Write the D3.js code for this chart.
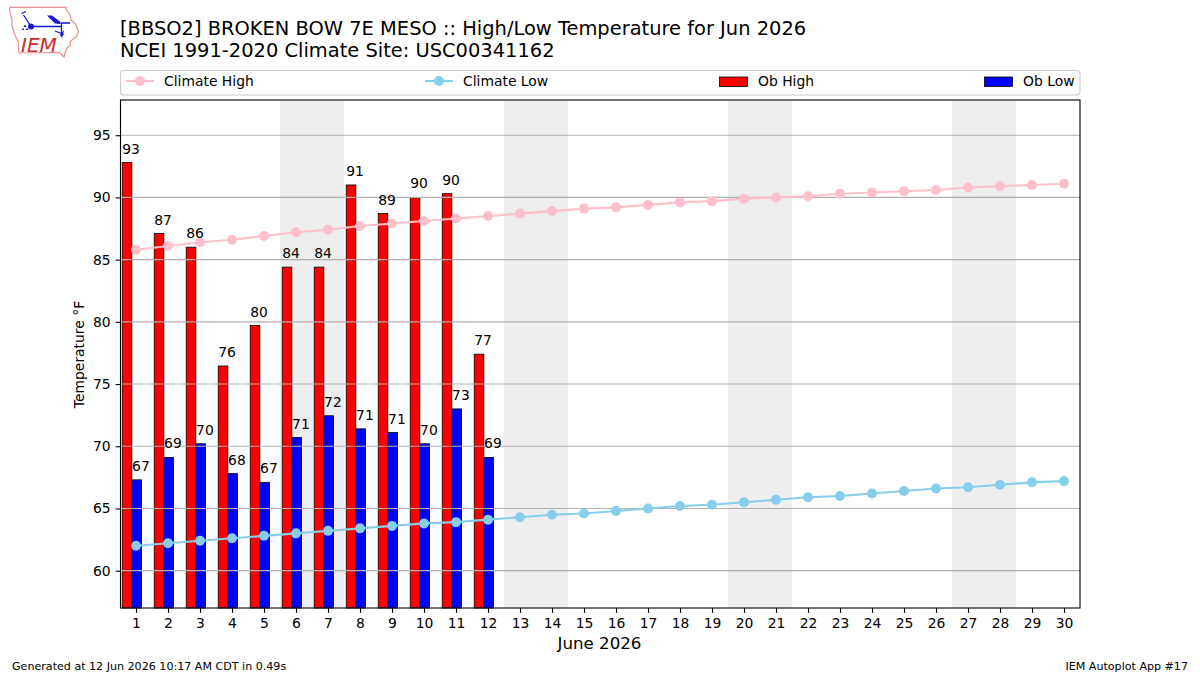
<!DOCTYPE html>
<html>
<head>
<meta charset="utf-8">
<script src="https://cdn.jsdelivr.net/npm/d3@7"></script>
<style>
  html, body { margin: 0; padding: 0; background: #fff; }
  svg { display: block; }
  text { font-family: "DejaVu Sans", sans-serif; fill: #000; }
</style>
</head>
<body>
<svg id="chart" width="1200" height="675"></svg>
<script>
const days = d3.range(1, 31);
const obHigh = [92.8, 87.1, 86.0, 76.45, 79.7, 84.4, 84.4, 91.0, 88.7, 90.0, 90.3, 77.4];
const obLow = [67.3, 69.1, 70.2, 67.8, 67.1, 70.7, 72.45, 71.4, 71.1, 70.2, 73.0, 69.1];
const climateHigh = [85.8, 86.1, 86.4, 86.6, 86.9, 87.2, 87.4, 87.7, 87.9, 88.1, 88.3, 88.5, 88.7, 88.9, 89.1,
                     89.2, 89.4, 89.6, 89.7, 89.9, 90.0, 90.1, 90.3, 90.4, 90.5, 90.6, 90.8, 90.9, 91.0, 91.1];
const climateLow = [62.0, 62.2, 62.4, 62.6, 62.8, 63.0, 63.2, 63.4, 63.6, 63.8, 63.9, 64.1, 64.3, 64.5, 64.6,
                    64.8, 65.0, 65.2, 65.3, 65.5, 65.7, 65.9, 66.0, 66.2, 66.4, 66.6, 66.7, 66.9, 67.1, 67.2];
const weekends = [[5.5, 7.5], [12.5, 14.5], [19.5, 21.5], [26.5, 28.5]];
const yTicks = [60, 65, 70, 75, 80, 85, 90, 95];
const titleLines = ["[BBSO2] BROKEN BOW 7E MESO :: High/Low Temperature for Jun 2026",
                    "NCEI 1991-2020 Climate Site: USC00341162"];
const legendItems = [
  { label: "Climate High", kind: "line", color: "pink", x0: 126, tx: 164 },
  { label: "Climate Low", kind: "line", color: "skyblue", x0: 425, tx: 463 },
  { label: "Ob High", kind: "bar", color: "red", x0: 719, tx: 758 },
  { label: "Ob Low", kind: "bar", color: "blue", x0: 984, tx: 1023 }
];

const plot = { left: 120.5, right: 1080, top: 100, bottom: 608 };
const x = d3.scaleLinear().domain([0.5, 30.5]).range([120, 1080]);
const y = d3.scaleLinear().domain([57, 97.83]).range([plot.bottom, plot.top]);
const barW = x(0.3) - x(0);

const svg = d3.select("#chart");
const g = svg.append("g");

// Weekend shading sits behind everything else
g.selectAll("rect.weekend").data(weekends).join("rect")
  .attr("class", "weekend")
  .attr("x", d => x(d[0])).attr("width", d => x(d[1]) - x(d[0]))
  .attr("y", plot.top).attr("height", plot.bottom - plot.top)
  .attr("fill", "#eeeeee");

// Observed high and low bars, side by side just left of each day
const bars = (values, offset, color) => g.selectAll(null).data(values).join("rect")
  .attr("x", (d, i) => x(days[i] + offset))
  .attr("width", barW)
  .attr("y", d => y(d))
  .attr("height", d => plot.bottom - y(d))
  .attr("fill", color).attr("stroke", "#000").attr("stroke-width", 0.8);
bars(obHigh, -0.43, "red");
bars(obLow, -0.13, "blue");

// Horizontal grid
g.selectAll("line.grid").data(yTicks).join("line")
  .attr("class", "grid")
  .attr("x1", plot.left).attr("x2", plot.right)
  .attr("y1", d => y(d)).attr("y2", d => y(d))
  .attr("stroke", "#b0b0b0").attr("stroke-width", 1.1);

// Climatology lines with round markers
const drawClimate = (values, color) => {
  const line = d3.line().x((d, i) => x(days[i])).y(d => y(d));
  g.append("path").attr("d", line(values)).attr("fill", "none")
    .attr("stroke", color).attr("stroke-width", 2.1);
  g.selectAll(null).data(values).join("circle")
    .attr("cx", (d, i) => x(days[i])).attr("cy", d => y(d)).attr("r", 5)
    .attr("fill", color);
};
drawClimate(climateHigh, "pink");
drawClimate(climateLow, "skyblue");

// Rounded value labels above each bar
const valueLabels = (values, offset) => g.selectAll(null).data(values).join("text")
  .attr("x", (d, i) => x(days[i] + offset))
  .attr("y", d => y(d) - 9)
  .attr("text-anchor", "middle")
  .attr("font-size", 13.9)
  .text(d => d3.format(".0f")(d));
valueLabels(obHigh, -0.155);
valueLabels(obLow, 0.155);

// Axes
const xAxis = d3.axisBottom(x).tickValues(days).tickFormat(d3.format("d")).tickSize(4.9).tickPadding(4.9).tickSizeOuter(0);
const yAxis = d3.axisLeft(y).tickValues(yTicks).tickFormat(d3.format("d")).tickSize(4.9).tickPadding(4.9).tickSizeOuter(0);
const ax = svg.append("g").attr("transform", `translate(0,${plot.bottom})`).call(xAxis);
const ay = svg.append("g").attr("transform", `translate(${plot.left},0)`).call(yAxis);
[ax, ay].forEach(a => {
  a.select(".domain").remove();
  a.selectAll("line").attr("stroke", "#000").attr("stroke-width", 1.1);
  a.selectAll("text").attr("font-size", 13.9).attr("font-family", "DejaVu Sans").attr("fill", "#000");
});

svg.append("rect")
  .attr("x", plot.left).attr("y", plot.top)
  .attr("width", plot.right - plot.left).attr("height", plot.bottom - plot.top)
  .attr("fill", "none").attr("stroke", "#000").attr("stroke-width", 1.1);

// Axis titles
svg.append("text").attr("x", 599.5).attr("y", 649).attr("text-anchor", "middle")
  .attr("font-size", 16.67).text("June 2026");
svg.append("text").attr("transform", "translate(84,354.5) rotate(-90)").attr("text-anchor", "middle")
  .attr("font-size", 13.9).text("Temperature \u00B0F");

// Title block
svg.selectAll("text.title").data(titleLines).join("text")
  .attr("class", "title")
  .attr("x", 120).attr("y", (d, i) => 35 + i * 22)
  .attr("font-size", 19.44).text(d => d);

// Legend strip
const legend = svg.append("g");
legend.append("rect").attr("x", 120.5).attr("y", 70.5).attr("width", 959.5).attr("height", 24.5)
  .attr("rx", 3).attr("fill", "#fff").attr("stroke", "#cccccc").attr("stroke-width", 1.1);
legendItems.forEach(item => {
  if (item.kind === "line") {
    legend.append("line").attr("x1", item.x0).attr("x2", item.x0 + 28).attr("y1", 81).attr("y2", 81)
      .attr("stroke", item.color).attr("stroke-width", 2.1);
    legend.append("circle").attr("cx", item.x0 + 14).attr("cy", 81).attr("r", 5).attr("fill", item.color);
  } else {
    legend.append("rect").attr("x", item.x0 + 0.5).attr("y", 77).attr("width", 28).attr("height", 9.5)
      .attr("fill", item.color).attr("stroke", "#000").attr("stroke-width", 0.8);
  }
  legend.append("text").attr("x", item.tx).attr("y", 86).attr("font-size", 13.9).text(item.label);
});

// Footer notes
svg.append("text").attr("x", 12).attr("y", 670).attr("font-size", 11.1)
  .text("Generated at 12 Jun 2026 10:17 AM CDT in 0.49s");
svg.append("text").attr("x", 1188).attr("y", 670).attr("text-anchor", "end").attr("font-size", 11.1)
  .text("IEM Autoplot App #17");

// IEM logo: state outline, weather-station glyph, wordmark
const logo = svg.append("g");
const ink = "#1414d2";
logo.append("path")
  .attr("d", "M9.7,7.3 L66,7.3 L67,11 L70,14.7 L71,20 L76,24.5 L78.5,32 L76,37 L72,40 L70,42 L70.5,45 L67,48 L65.5,52 L64,57 L60.5,53.5 L59,52.5 L19,53 L18,41 L15,35 L12,26 L12,19 L9.7,12 Z")
  .attr("fill", "#fff").attr("stroke", "#e49090").attr("stroke-width", 1.2);
logo.append("path").attr("d", "M31,26.5 L61.5,26.5 M31,26.5 L23.5,15 M21.5,13.5 L26,11.5 M61.5,23 L61.5,36 M61,23 L70,23 M55,31 L64,34.5")
  .attr("fill", "none").attr("stroke", ink).attr("stroke-width", 1.3);
logo.append("path").attr("d", "M47,15.5 L52,15.5 L60.5,22 L60.5,24 L55,23.5 Z").attr("fill", ink);
logo.append("circle").attr("cx", 31).attr("cy", 26.5).attr("r", 3).attr("fill", ink);
logo.append("path").attr("d", "M25,24.5 L26.5,27 L23.5,27 Z M23,28 L24.5,30 L21.5,30 Z M27,28 L28.5,30 L25.5,30 Z").attr("fill", ink);
logo.append("path").attr("d", "M64,30 L62,38 L60,35 Z").attr("fill", ink);
logo.append("text").attr("x", 21).attr("y", 51.5).attr("font-family", "Liberation Serif")
  .attr("font-style", "italic").attr("font-size", 20).attr("style", "fill:#cc2a2a").text("IEM");
</script>
</body>
</html>
